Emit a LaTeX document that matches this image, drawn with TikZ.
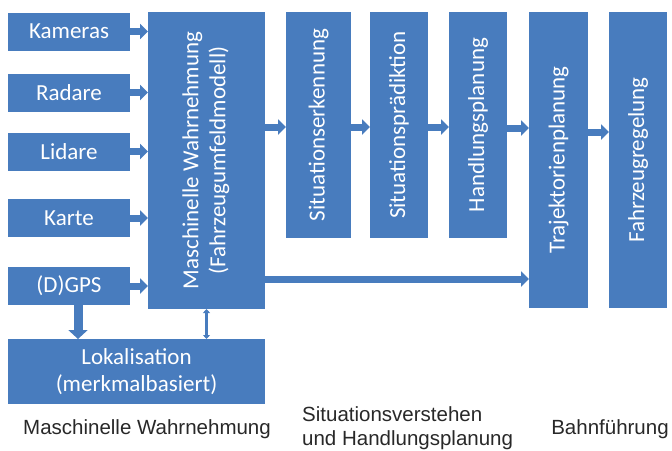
\documentclass[tikz,border=0pt]{standalone}
\usepackage{fontspec}
\setmainfont{Carlito}
\newfontfamily\capfont{Liberation Sans}
\usetikzlibrary{arrows.meta,positioning,calc}
\definecolor{boxblue}{RGB}{72,124,190}
\definecolor{captext}{RGB}{40,40,40}

\begin{document}
\begin{tikzpicture}[
  x=1pt, y=-1pt,
  font=\fontsize{23}{27}\selectfont,
  box/.style={fill=boxblue, text=white, align=center, inner sep=0pt, outer sep=0pt},
  sensor/.style={box, minimum width=122pt, minimum height=38pt},
  stage/.style={box, minimum width=58pt, minimum height=226pt},
  caption/.style={font=\capfont\fontsize{20.5}{24}\selectfont, text=captext, align=left, inner sep=0pt},
  blk/.style={-{Triangle[length=8pt, width=15pt]}, line width=7pt, draw=boxblue},
  thin/.style={{Triangle[length=4pt, width=7pt]}-{Triangle[length=4pt, width=7pt]},
               line width=2.5pt, draw=boxblue}
]
  \useasboundingbox (0,0) rectangle (672,450);
  % sensors
  \node[sensor] (kam) at (69,31.5) {Kameras};
  \node[sensor] (rad) at (69,92.5) {Radare};
  \node[sensor] (lid) at (69,151.5) {Lidare};
  \node[sensor] (kar) at (69,218) {Karte};
  \node[sensor] (gps) at (69,286) {(D)GPS};
  % environment model and localisation
  \node[box, minimum width=117pt, minimum height=297pt] (perc) at (206.5,160.5)
        {\rotatebox{90}{\begin{tabular}{c}Maschinelle Wahrnehmung\\(Fahrzeugumfeldmodell)\end{tabular}}};
  \node[box, minimum width=257pt, minimum height=65pt] (lok) at (136.5,371.5)
        {Lokalisation\\(merkmalbasiert)};
  % situation understanding and planning
  \node[stage, minimum width=65pt] (sit) at (318.5,125) {\rotatebox{90}{Situationserkennung}};
  \node[stage] (pred) at (399,125) {\rotatebox{90}{Situationsprädiktion}};
  \node[stage] (hand) at (478,125) {\rotatebox{90}{Handlungsplanung}};
  % trajectory and control
  \node[stage, minimum width=59pt, minimum height=296pt] (traj) at (558.5,160)
        {\rotatebox{90}{Trajektorienplanung}};
  \node[stage, minimum height=296pt] (fzr) at (638,160) {\rotatebox{90}{Fahrzeugregelung}};
  % sensor inputs
  \foreach \s in {kam,rad,lid,kar,gps}
    \draw[blk] (\s.east) -- (\s.east -| perc.west);
  \draw[blk, line width=9pt, -{Triangle[length=9pt, width=19pt]}]
        ([xshift=9pt]gps.south) -- ([xshift=9pt]gps.south |- lok.north);
  \draw[thin] (perc.south) -- (perc.south |- lok.north);
  % main pipeline
  \draw[blk] ([yshift=-2pt]perc.east |- sit) -- ([yshift=-2pt]sit.west);
  \draw[blk] ([yshift=-2pt]sit.east) -- ([yshift=-2pt]pred.west);
  \draw[blk] ([yshift=-2pt]pred.east) -- ([yshift=-2pt]hand.west);
  \draw[blk] ([yshift=-3pt]hand.east) -- ([yshift=-3pt]hand.east -| traj.west);
  \draw[blk] ([yshift=-7pt]traj.east |- hand) -- ([yshift=-7pt]fzr.west |- hand);
  % shortcut to trajectory planning
  \draw[blk] ([yshift=-118.5pt]perc.east) -- ([yshift=-118.5pt]perc.east -| traj.west);
  % group captions
  \node[caption] (capw) at (147,429) {Maschinelle Wahrnehmung};
  \node[caption, anchor=west] (caps) at (302,428) {Situationsverstehen\\und Handlungsplanung};
  \node[caption] (capb) at (610,429) {Bahnführung};
\end{tikzpicture}
\end{document}
